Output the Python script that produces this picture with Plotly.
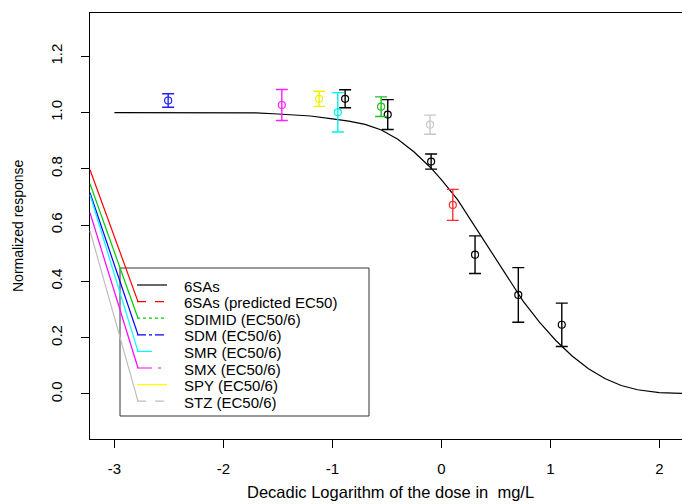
import plotly.graph_objects as go

# ---------------- data ----------------
curve_x = [-3.0, -2.5, -2.0, -1.7, -1.5, -1.2, -1.0, -0.85, -0.7, -0.55, -0.4, -0.25,
           -0.1, 0.0, 0.15, 0.3, 0.45, 0.6, 0.75, 0.9, 1.05, 1.2, 1.35, 1.5, 1.65,
           1.8, 2.0, 2.2, 2.4, 2.6]
curve_y = [1.0, 1.0, 1.0, 0.999, 0.995, 0.988, 0.978, 0.970, 0.958, 0.938, 0.905, 0.86,
           0.805, 0.762, 0.69, 0.60, 0.51, 0.42, 0.33, 0.255, 0.19, 0.135, 0.09, 0.055, 0.03,
           0.015, 0.005, 0.002, 0.001, 0.0]

# measured points (x, y, error) per colour group
black_x = [-0.883, -0.492, -0.094, 0.309, 0.706, 1.105]
black_y = [1.049, 0.993, 0.826, 0.495, 0.352, 0.246]
black_e = [0.032, 0.053, 0.027, 0.067, 0.097, 0.077]

red_x, red_y, red_e = [0.105], [0.672], [0.055]
green_x, green_y, green_e = [-0.553], [1.021], [0.035]
blue_x, blue_y, blue_e = [-2.507], [1.043], [0.024]
cyan_x, cyan_y, cyan_e = [-0.950], [1.001], [0.070]
magenta_x, magenta_y, magenta_e = [-1.464], [1.027], [0.055]
yellow_x, yellow_y, yellow_e = [-1.122], [1.049], [0.027]
gray_x, gray_y, gray_e = [-0.104], [0.957], [0.034]

x_ticks = [-3, -2, -1, 0, 1, 2]
x_tick_labels = ["-3", "-2", "-1", "0", "1", "2"]
y_ticks = [0.0, 0.2, 0.4, 0.6, 0.8, 1.0, 1.2]
y_tick_labels = ["0.0", "0.2", "0.4", "0.6", "0.8", "1.0", "1.2"]

legend_labels = ["6SAs", "6SAs (predicted EC50)", "SDIMID (EC50/6)", "SDM (EC50/6)",
                 "SMR (EC50/6)", "SMX (EC50/6)", "SPY (EC50/6)", "STZ (EC50/6)"]
legend_colors = ["#000000", "#ff0000", "#00cd00", "#0000ff", "#00ffff", "#ff00ff",
                 "#ffff00", "#bebebe"]
legend_dashes = ["solid", "dash", "dot", "dashdot", "longdash", "longdashdot", "solid", "dash"]

# stray connector lines from left frame edge to legend samples (y at the frame edge)
connector_start_y = [None, 0.797, 0.747, 0.715, 0.708, 0.644, None, 0.580]

# ---------------- layout geometry ----------------
W, H = 682, 504
PL, PR, PT, PB = 90, 682, 13, 439
XR = [-3.224, 2.208]
YR = [-0.160, 1.354]

def pxp(xp):
    return (xp - PL) / (PR - PL)

def pyp(yp):
    return (PB - yp) / (PB - PT)

def y2px(y):
    return PB - (y - YR[0]) / (YR[1] - YR[0]) * (PB - PT)

FONT = "Liberation Sans, Arial, sans-serif"

fig = go.Figure()

fig.add_trace(go.Scatter(x=curve_x, y=curve_y, mode="lines",
                         line=dict(color="black", width=1.2), showlegend=False,
                         hoverinfo="skip"))

groups = [
    (black_x, black_y, black_e, "#000000"),
    (red_x, red_y, red_e, "#ff3030"),
    (green_x, green_y, green_e, "#20c020"),
    (blue_x, blue_y, blue_e, "#2020ff"),
    (cyan_x, cyan_y, cyan_e, "#00f0f0"),
    (magenta_x, magenta_y, magenta_e, "#ff20ff"),
    (yellow_x, yellow_y, yellow_e, "#f0f000"),
    (gray_x, gray_y, gray_e, "#c8c8c8"),
]
for gx, gy, ge, c in groups:
    fig.add_trace(go.Scatter(
        x=gx, y=gy, mode="markers",
        marker=dict(symbol="circle-open", size=7, color=c, line=dict(width=1.2, color=c)),
        error_y=dict(type="data", array=ge, visible=True, color=c, thickness=1.4, width=6),
        showlegend=False))

# ---------------- manual legend ----------------
box_l, box_t, box_r, box_b = 120, 268, 369, 416
shapes = [dict(type="rect", xref="paper", yref="paper",
               x0=pxp(box_l), x1=pxp(box_r), y0=pyp(box_b), y1=pyp(box_t),
               line=dict(color="#333333", width=1), fillcolor="rgba(0,0,0,0)")]
annotations = []
row0, row_h = 286, 16.6
sample_x0, sample_x1, text_x = 137, 167, 182
for i, (lab, col, dsh) in enumerate(zip(legend_labels, legend_colors, legend_dashes)):
    yc = row0 + i * row_h
    yl = yc - 1
    shapes.append(dict(type="line", xref="paper", yref="paper",
                       x0=pxp(sample_x0), x1=pxp(sample_x1), y0=pyp(yl), y1=pyp(yl),
                       line=dict(color=col, width=1.2, dash=dsh)))
    annotations.append(dict(x=pxp(text_x), y=pyp(yc), xref="paper", yref="paper",
                            text=lab, showarrow=False, xanchor="left", yanchor="middle",
                            font=dict(family=FONT, size=15, color="black")))
    sy = connector_start_y[i]
    if sy is not None:
        shapes.append(dict(type="line", xref="paper", yref="paper",
                           x0=pxp(PL), x1=pxp(sample_x0 + 1),
                           y0=pyp(y2px(sy)), y1=pyp(yl),
                           line=dict(color=col, width=1.2)))

# axis titles
annotations.append(dict(x=pxp(390), y=pyp(492), xref="paper", yref="paper",
                        text="Decadic Logarithm of the dose in  mg/L", showarrow=False,
                        xanchor="center", yanchor="middle",
                        font=dict(family=FONT, size=16.5, color="black")))
annotations.append(dict(x=pxp(18), y=pyp(226), xref="paper", yref="paper",
                        text="Normalized response", showarrow=False, textangle=-90,
                        xanchor="center", yanchor="middle",
                        font=dict(family=FONT, size=14, color="black")))

fig.update_layout(
    width=W, height=H,
    margin=dict(l=PL, r=W - PR, t=PT, b=H - PB),
    paper_bgcolor="white", plot_bgcolor="white",
    shapes=shapes, annotations=annotations,
    showlegend=False,
    font=dict(family=FONT, size=14, color="black"),
)
fig.update_xaxes(range=XR, showgrid=False, zeroline=False,
                 showline=True, mirror=True, linecolor="black", linewidth=1,
                 ticks="outside", ticklen=8, tickcolor="black", tickwidth=1,
                 tickvals=x_ticks, ticktext=x_tick_labels, ticklabelstandoff=8,
                 tickfont=dict(family=FONT, size=15, color="black"))
fig.update_yaxes(range=YR, showgrid=False, zeroline=False,
                 showline=True, mirror=False, linecolor="black", linewidth=1,
                 ticks="outside", ticklen=8, tickcolor="black", tickwidth=1,
                 tickvals=y_ticks, ticktext=y_tick_labels, tickangle=-90,
                 ticklabelstandoff=13,
                 tickfont=dict(family=FONT, size=15, color="black"))

fig.write_html("out.html",
               config={"displayModeBar": False},
               post_script="document.body.style.margin='0';document.body.style.padding='0';"
                           "document.body.style.overflow='hidden';")
